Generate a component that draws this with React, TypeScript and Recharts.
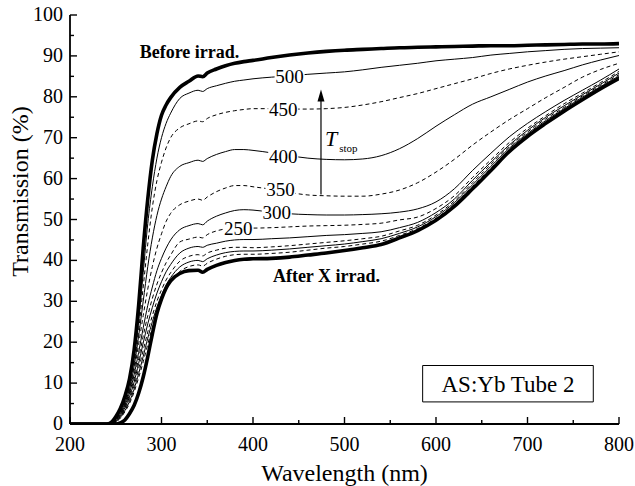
import React from "react";
import { LineChart, Line, XAxis, YAxis, ReferenceDot, ReferenceArea, ReferenceLine } from "recharts";

const FONT = "Liberation Serif, DejaVu Serif, serif";

// wavelength grid (nm)
const wavelength = [200, 240, 245, 250, 255, 260, 265, 270, 275, 280, 285, 290, 295, 300, 305, 310, 320, 330, 340, 345, 350, 360, 370, 380, 390, 400, 420, 440, 460, 480, 500, 520, 540, 560, 580, 600, 620, 640, 660, 680, 700, 720, 740, 760, 780, 800];

// transmission (%)
const beforeIrrad = [0, 0, 0.4, 1.8, 3.8, 6.8, 11, 18, 29, 43, 55, 64.5, 71, 75.5, 78, 79.8, 82.3, 83.8, 85.1, 84.9, 85.8, 86.8, 87.6, 88.2, 88.6, 88.9, 89.6, 90.2, 90.7, 91.1, 91.4, 91.6, 91.8, 92, 92.1, 92.2, 92.3, 92.4, 92.5, 92.5, 92.6, 92.7, 92.8, 92.9, 92.9, 93];
const t500 = [0, 0, 0.3, 1.5, 3.3, 6, 9.8, 16, 25, 37, 49, 58, 65, 70, 73.5, 76, 79.6, 80.9, 81.6, 81.3, 82, 82.7, 83.3, 83.8, 84.1, 84.4, 84.8, 85.1, 85.5, 85.8, 86.1, 86.6, 87.2, 87.7, 88.2, 88.8, 89.2, 89.6, 90.2, 90.6, 91, 91.3, 91.6, 91.8, 91.9, 92];
const t450 = [0, 0, 0.3, 1.3, 3, 5.6, 9.2, 15, 23, 33.5, 44, 53, 59.5, 64, 67.5, 70, 72.4, 73.4, 74.1, 73.9, 74.7, 75.6, 76.2, 76.6, 76.9, 77.1, 77.1, 77, 77, 77.1, 77.4, 78, 78.8, 79.8, 80.8, 82, 83.2, 84.4, 85.7, 86.8, 87.7, 88.5, 89.2, 89.8, 90.4, 91];
const t400 = [0, 0, 0.2, 1.2, 2.8, 5.2, 8.6, 14, 21.5, 30, 38.5, 45.5, 51, 55, 58, 60.5, 63, 63.9, 64.5, 64.2, 64.9, 65.9, 66.6, 67.1, 67.1, 66.9, 66.3, 65.6, 65, 64.7, 64.6, 64.8, 65.6, 67.3, 69.8, 72.8, 75.6, 78.2, 80, 81.8, 83.6, 85.1, 86.4, 87.8, 89, 90.1];
const t350 = [0, 0, 0.2, 1.1, 2.6, 4.9, 8.1, 13, 19.5, 26.5, 33, 38.5, 43, 46.5, 49.5, 51.5, 53.6, 54.5, 55, 54.7, 55.5, 56.8, 57.7, 58.3, 58.3, 58, 57.4, 56.6, 56, 55.8, 55.7, 55.7, 56.2, 57.2, 59, 61.6, 64.7, 68.2, 71.4, 74.4, 77.1, 79.8, 82.3, 84.8, 86.7, 88.2];
const t300 = [0, 0, 0.2, 1, 2.4, 4.6, 7.6, 12, 17.5, 23.5, 29, 33.5, 37.5, 40.5, 43, 45, 47.5, 48.5, 49, 48.7, 49.6, 50.8, 51.6, 52.2, 52.4, 52.3, 51.8, 51.4, 51.2, 51.1, 51.1, 51.2, 51.4, 51.8, 52.6, 54.3, 57.5, 62, 66.2, 70.2, 73.5, 76.4, 79.1, 81.6, 84.1, 86.8];
const t250 = [0, 0, 0.1, 0.9, 2.2, 4.3, 7.1, 11, 16, 21.5, 26.5, 30.7, 34.2, 37, 39.4, 41.3, 44.5, 45.2, 45.7, 45.5, 46.3, 47.2, 47.7, 47.9, 47.9, 47.9, 48, 48.2, 48.4, 48.5, 48.6, 48.8, 49.1, 49.9, 50.6, 52.7, 55.8, 60.3, 64.6, 68.8, 72.3, 75.4, 78.3, 80.9, 83.5, 86.2];
const t200 = [0, 0, 0.1, 0.8, 2, 4, 6.6, 10.2, 14.8, 19.8, 24.5, 28.5, 32, 34.8, 37.2, 39, 41.8, 43, 43.4, 43.2, 43.7, 44.2, 44.7, 45, 45.1, 45.1, 45.3, 45.5, 45.8, 46.1, 46.3, 46.6, 47, 48, 49.3, 51.7, 55, 59.6, 64, 68.2, 71.8, 75, 77.8, 80.5, 83.1, 85.8];
const t150 = [0, 0, 0.1, 0.7, 1.8, 3.6, 6, 9.3, 13.5, 18, 22.5, 26.5, 30, 32.8, 35.2, 37, 39.8, 41, 41.4, 41.1, 41.8, 42.5, 43, 43.2, 43.2, 43.1, 43.3, 43.6, 44, 44.4, 44.8, 45.3, 45.9, 47.2, 48.6, 51.1, 54.5, 59, 63.5, 67.8, 71.4, 74.6, 77.4, 80.2, 82.8, 85.4];
const t100 = [0, 0, 0, 0.6, 1.6, 3.3, 5.5, 8.5, 12.3, 16.5, 21, 25, 28.6, 31.5, 34, 35.8, 38.4, 39.6, 40, 39.7, 40.4, 41.3, 41.9, 42.2, 42.3, 42.3, 42.5, 42.8, 43.2, 43.6, 44, 44.6, 45.3, 46.6, 48.2, 50.7, 54.1, 58.5, 63, 67.4, 71, 74.2, 77.1, 79.9, 82.5, 85.1];
const t50 = [0, 0, 0, 0.5, 1.4, 3, 5, 7.8, 11.3, 15.2, 19.5, 23.6, 27.3, 30.3, 32.8, 34.7, 37.3, 38.5, 38.9, 38.6, 39.3, 40.3, 41, 41.4, 41.5, 41.5, 41.7, 42, 42.5, 43, 43.4, 44, 44.7, 46.1, 47.8, 50.3, 53.7, 58.1, 62.6, 67, 70.7, 73.9, 76.8, 79.6, 82.2, 84.8];
const afterIrrad = [0, 0, 0, 0, 0.3, 1, 2.5, 4.5, 7.5, 11.5, 16.5, 22, 27, 30.5, 33.2, 35, 36.8, 37.5, 37.6, 37.1, 37.8, 38.8, 39.5, 40, 40.3, 40.4, 40.5, 40.8, 41.3, 41.8, 42.4, 43.1, 43.9, 45.5, 47.3, 49.8, 53.2, 57.5, 62, 66.6, 70.3, 73.5, 76.5, 79.3, 82, 84.5];

// curve annotations (Tstop) and where they sit on their curve
const curveLabels = ["500", "450", "400", "350", "300", "250"];
const curveLabelX = [440, 433, 433, 430, 426, 384];
const curveLabelY = [85, 77, 65.4, 57.3, 51.7, 47.8];

const xTicks = [200, 250, 300, 350, 400, 450, 500, 550, 600, 650, 700, 750, 800];
const yTicks = [0, 5, 10, 15, 20, 25, 30, 35, 40, 45, 50, 55, 60, 65, 70, 75, 80, 85, 90, 95, 100];

const series = [
  { key: "before", values: beforeIrrad, width: 3.6, dash: undefined },
  { key: "t500", values: t500, width: 1, dash: undefined },
  { key: "t450", values: t450, width: 1, dash: "4 3" },
  { key: "t400", values: t400, width: 1, dash: undefined },
  { key: "t350", values: t350, width: 1, dash: "4 3" },
  { key: "t300", values: t300, width: 1, dash: undefined },
  { key: "t250", values: t250, width: 1, dash: "4 3" },
  { key: "t200", values: t200, width: 1, dash: undefined },
  { key: "t150", values: t150, width: 1, dash: "4 3" },
  { key: "t100", values: t100, width: 1, dash: undefined },
  { key: "t50", values: t50, width: 1, dash: "4 3" },
  { key: "after", values: afterIrrad, width: 3.6, dash: undefined },
];

const rows = wavelength.map((wl, i) => {
  const row: Record<string, number> = { wl };
  series.forEach((s) => (row[s.key] = s.values[i]));
  return row;
});

const txt = (size: number, extra: React.CSSProperties = {}): React.CSSProperties => ({
  fontFamily: FONT,
  fontSize: size,
  fill: "#000",
  ...extra,
});

// inward ticks, labels only on the bottom/left axes
const renderTick = (side: string, withLabel: boolean) => (props: any) => {
  const { x, y, payload } = props;
  const v = payload.value;
  const horizontal = side === "bottom" || side === "top";
  const major = horizontal ? v % 100 === 0 : v % 10 === 0;
  const len = major ? 7 : 4;
  let x2 = x;
  let y2 = y;
  if (side === "bottom") y2 = y - len;
  if (side === "top") y2 = y + len;
  if (side === "left") x2 = x + len;
  if (side === "right") x2 = x - len;
  return (
    <g>
      <line x1={x} y1={y} x2={x2} y2={y2} stroke="#000" strokeWidth={1.4} />
      {withLabel && major && side === "bottom" && (
        <text x={x} y={y + 27} textAnchor="middle" style={txt(20)}>{v}</text>
      )}
      {withLabel && major && side === "left" && (
        <text x={x - 7} y={y - 1} dy="0.35em" textAnchor="end" style={txt(20)}>{v}</text>
      )}
    </g>
  );
};

const CurveLabel = (props: any) => {
  const { cx, cy, text } = props;
  return (
    <g>
      <rect x={cx - 15} y={cy - 8} width={30} height={16} fill="#fff" />
      <text x={cx} y={cy} dy="0.35em" textAnchor="middle" style={txt(19)}>{text}</text>
    </g>
  );
};

const BoldNote = (props: any) => (
  <text x={props.cx} y={props.cy} textAnchor="middle" style={txt(18, { fontWeight: "bold" })}>{props.text}</text>
);

const TStop = (props: any) => (
  <text x={props.cx} y={props.cy} style={txt(22)}>
    <tspan style={{ fontStyle: "italic" }}>T</tspan>
    <tspan style={{ fontSize: 11 }} dx={2} dy={6}>stop</tspan>
  </text>
);

const ArrowHead = (props: any) => {
  const { cx, cy } = props;
  return <polygon points={`${cx},${cy} ${cx - 3.5},${cy + 12} ${cx + 3.5},${cy + 12}`} fill="#000" />;
};

const YTitle = (props: any) => {
  const vb = props.viewBox;
  const cx = 20;
  const cy = vb.y + vb.height / 2 - 28;
  return (
    <text x={cx} y={cy} transform={`rotate(-90, ${cx}, ${cy})`} textAnchor="middle" dominantBaseline="central" style={txt(24)}>
      Transmission (%)
    </text>
  );
};

const XTitle = (props: any) => {
  const vb = props.viewBox;
  return (
    <text x={vb.x + vb.width / 2} y={vb.y + vb.height - 5} textAnchor="middle" style={txt(24)}>
      Wavelength (nm)
    </text>
  );
};

const BoxText = (props: any) => {
  const vb = props.viewBox;
  return (
    <text x={vb.x + vb.width / 2} y={vb.y + vb.height / 2} dy="0.35em" textAnchor="middle" style={txt(23)}>
      AS:Yb Tube 2
    </text>
  );
};

export default function App() {
  const axisLine = { stroke: "#000", strokeWidth: 1.8 };
  return (
    <div style={{ position: "absolute", left: 0, top: 0, width: 635, height: 486, background: "#fff", fontFamily: FONT }}>
      <LineChart width={635} height={486} data={rows} margin={{ top: 15, right: 16, bottom: 0, left: 0 }}>
        <XAxis dataKey="wl" type="number" domain={[200, 800]} allowDataOverflow ticks={xTicks} interval={0} height={62}
          tickSize={0} tickMargin={0} tickLine={false} axisLine={axisLine} tick={renderTick("bottom", true)}
          label={{ content: XTitle }} />
        <XAxis xAxisId="top" orientation="top" dataKey="wl" type="number" domain={[200, 800]} allowDataOverflow ticks={xTicks}
          interval={0} height={0} tickSize={0} tickMargin={0} tickLine={false} axisLine={axisLine} tick={renderTick("top", false)} />
        <YAxis type="number" domain={[0, 100]} allowDataOverflow ticks={yTicks} interval={0} width={70}
          tickSize={0} tickMargin={0} tickLine={false} axisLine={axisLine} tick={renderTick("left", true)}
          label={{ content: YTitle }} />
        <YAxis yAxisId="right" orientation="right" type="number" domain={[0, 100]} allowDataOverflow ticks={yTicks} interval={0}
          width={0} tickSize={0} tickMargin={0} tickLine={false} axisLine={axisLine} tick={renderTick("right", false)} />

        {series.map((s) => (
          <Line key={s.key} dataKey={s.key} type="monotone" stroke="#000" strokeWidth={s.width} strokeDasharray={s.dash}
            dot={false} activeDot={false} isAnimationActive={false} />
        ))}

        {curveLabels.map((t, i) => (
          <ReferenceDot key={t} x={curveLabelX[i]} y={curveLabelY[i]} r={1} ifOverflow="visible"
            shape={(p: any) => <CurveLabel {...p} text={t} />} />
        ))}

        <ReferenceDot x={330.6} y={89.4} r={1} ifOverflow="visible" shape={(p: any) => <BoldNote {...p} text="Before irrad." />} />
        <ReferenceDot x={480.3} y={34.6} r={1} ifOverflow="visible" shape={(p: any) => <BoldNote {...p} text="After X irrad." />} />

        <ReferenceLine segment={[{ x: 474.3, y: 56.1 }, { x: 474.3, y: 79.5 }]} stroke="#000" strokeWidth={1.2} ifOverflow="visible" />
        <ReferenceDot x={474.3} y={81.8} r={1} ifOverflow="visible" shape={ArrowHead} />
        <ReferenceDot x={478.7} y={67.9} r={1} ifOverflow="visible" shape={TStop} />

        <ReferenceArea x1={585.4} x2={771.9} y1={5.4} y2={14.3} fill="#fff" fillOpacity={1} stroke="#000" strokeWidth={1}
          ifOverflow="visible" label={{ content: BoxText }} />
      </LineChart>
    </div>
  );
}
